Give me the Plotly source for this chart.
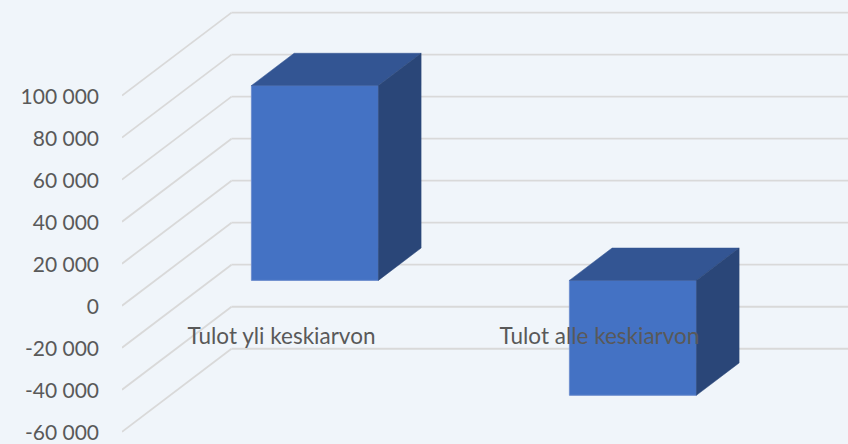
import plotly.graph_objects as go

# Data
categories = ["Tulot yli keskiarvon", "Tulot alle keskiarvon"]
values = [92700, -54700]
tick_values = [100000, 80000, 60000, 40000, 20000, 0, -20000, -40000, -60000]
tick_labels = ["100 000", "80 000", "60 000", "40 000", "20 000", "0", "-20 000", "-40 000", "-60 000"]

# Layout / projection settings
W, H = 848, 444
LEFT = 122
PX_PER_UNIT = 42.02 / 20000
ZERO_PX = 305.7
WALL_DX, WALL_DY = 109.5, 83.0       # projection of full chart depth
CAT_CENTRES = [159.5, 477.5]         # category positions on the floor, from plot left
BAR_WIDTH = 127
BAR_D0, BAR_D1 = 0.305, 0.695        # bar front and back depth fractions

BG = "#F0F5FA"
GRID = "#D9D9D9"
FRONT = "#4472C4"
TOP = "#335593"
SIDE = "#2A4678"
EDGE = "#6F8FCF"
TEXT = "#595959"
FONT = "Lato, Carlito, Calibri, sans-serif"


def project(x, v, d):
    """Oblique projection: plot x, data value and depth fraction -> axis coordinates."""
    return x + d * WALL_DX, v + d * WALL_DY / PX_PER_UNIT


fig = go.Figure()

# Bar faces, all derived from the values
front_x, front_base = [], []
for c, v in zip(CAT_CENTRES, values):
    x, b = project(c, 0, BAR_D0)
    front_x.append(x)
    front_base.append(b)

fig.add_trace(go.Bar(
    x=front_x, y=values, base=front_base, width=BAR_WIDTH,
    marker=dict(color=FRONT, line=dict(color=EDGE, width=1)),
    hoverinfo="skip", showlegend=False,
))

for c, v in zip(CAT_CENTRES, values):
    xl, xr = c - BAR_WIDTH / 2, c + BAR_WIDTH / 2
    hi, lo = max(v, 0), min(v, 0)
    top_pts = [project(xl, hi, BAR_D0), project(xr, hi, BAR_D0), project(xr, hi, BAR_D1), project(xl, hi, BAR_D1)]
    side_pts = [project(xr, hi, BAR_D0), project(xr, hi, BAR_D1), project(xr, lo, BAR_D1), project(xr, lo, BAR_D0)]
    for pts, col in ((top_pts, TOP), (side_pts, SIDE)):
        fig.add_trace(go.Scatter(
            x=[p[0] for p in pts] + [pts[0][0]],
            y=[p[1] for p in pts] + [pts[0][1]],
            mode="lines", fill="toself", fillcolor=col,
            line=dict(color=col, width=0.5),
            hoverinfo="skip", showlegend=False,
        ))

# Gridlines on the side wall and back wall, drawn below the bars
x_end = W - LEFT
shapes = []
for t in tick_values:
    x0, y0 = project(0, t, 0)
    x1, y1 = project(0, t, 1)
    shapes.append(dict(type="line", xref="x", yref="y", x0=x0, y0=y0, x1=x1, y1=y1,
                       layer="below", line=dict(color=GRID, width=1.8)))
    shapes.append(dict(type="line", xref="x", yref="y", x0=x1, y0=y1, x1=x_end, y1=y1,
                       layer="below", line=dict(color=GRID, width=1.8)))

fig.update_layout(
    width=W, height=H,
    margin=dict(l=LEFT, r=0, t=0, b=0, pad=0),
    paper_bgcolor=BG, plot_bgcolor=BG,
    showlegend=False,
    shapes=shapes,
    font=dict(family=FONT, color=TEXT, size=21),
    xaxis=dict(
        range=[0, x_end], showgrid=False, zeroline=False, showline=False,
        tickmode="array", tickvals=CAT_CENTRES, ticktext=categories,
        ticks="", anchor="free", position=1 - 320.5 / H,
        tickfont=dict(family=FONT, color=TEXT, size=22.5),
    ),
    yaxis=dict(
        range=[-(H - ZERO_PX) / PX_PER_UNIT, ZERO_PX / PX_PER_UNIT],
        showgrid=False, zeroline=False, showline=False,
        tickmode="array", tickvals=tick_values, ticktext=tick_labels,
        ticks="", ticklabelstandoff=22, ticklabelshift=1, ticklabeloverflow="allow",
        tickfont=dict(family=FONT, color=TEXT, size=21),
    ),
)

fig.write_html(
    "out.html",
    config=dict(displayModeBar=False),
    post_script="document.body.style.margin='0';document.documentElement.style.background='%s';" % BG,
)
